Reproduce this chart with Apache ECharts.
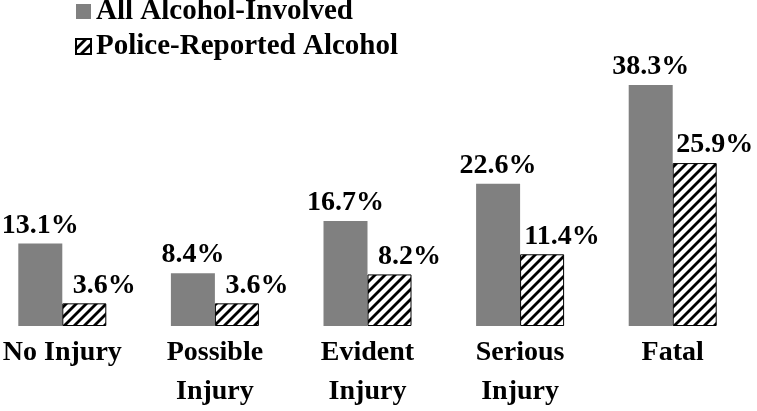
<!DOCTYPE html>
<html>
<head>
<meta charset="utf-8">
<script src="https://cdn.jsdelivr.net/npm/echarts@6/dist/echarts.min.js"></script>
<style>
    html, body {margin: 0; padding: 0; background: #fff;}
    #chart01 {width: 757px; height: 411px;}
</style>
</head>
<body>
<div id="chart01"></div>
<script>
var categories = ['No Injury', 'Possible\nInjury', 'Evident\nInjury', 'Serious\nInjury', 'Fatal'];
var allAlcohol = [13.1, 8.4, 16.7, 22.6, 38.3];
var policeAlcohol = [3.6, 3.6, 8.2, 11.4, 25.9];
var seriesNames = ['All Alcohol-Involved', 'Police-Reported Alcohol'];

var chart01 = echarts.init(document.getElementById('chart01'), null, {renderer: 'canvas'});

// diagonal stripe fill for the police-reported bars
function makeHatch() {
    var c = document.createElement('canvas');
    c.width = 10;
    c.height = 10;
    var ctx = c.getContext('2d');
    ctx.fillStyle = '#fff';
    ctx.fillRect(0, 0, 10, 10);
    ctx.strokeStyle = '#000';
    ctx.lineWidth = 2.8;
    for (var k = -1; k <= 2; k++) {
        ctx.beginPath();
        ctx.moveTo(k * 10 - 11, 11);
        ctx.lineTo(k * 10 + 1, -1);
        ctx.stroke();
    }
    return c;
}

var font = 'Liberation Serif';
var labelStyle = {
    show: true,
    position: 'top',
    distance: 4,
    fontFamily: font,
    fontWeight: 'bold',
    fontSize: 28,
    color: '#000',
    formatter: function (p) {
        return p.value.toFixed(1) + '%';
    }
};

var option = {
    animation: false,
    legend: {
        orient: 'vertical',
        left: 75,
        top: -3,
        padding: 0,
        icon: 'rect',
        itemWidth: 15,
        itemHeight: 15,
        itemGap: 6,
        textStyle: {
            fontFamily: font,
            fontWeight: 'bold',
            fontSize: 29,
            color: '#000'
        },
        data: seriesNames
    },
    grid: {
        left: -14,
        right: 8,
        top: 11.5,
        bottom: 85,
        outerBoundsMode: 'none'
    },
    xAxis: {
        type: 'category',
        data: categories,
        axisLine: {show: false},
        axisTick: {show: false},
        axisLabel: {
            interval: 0,
            margin: 7,
            fontFamily: font,
            fontWeight: 'bold',
            fontSize: 28,
            lineHeight: 39,
            color: '#000'
        }
    },
    yAxis: {
        type: 'value',
        min: 0,
        max: 50,
        show: false,
        splitLine: {show: false}
    },
    series: [
        {
            name: seriesNames[0],
            type: 'bar',
            data: allAlcohol,
            barWidth: 44,
            barGap: '0%',
            itemStyle: {color: '#808080'},
            label: labelStyle
        },
        {
            name: seriesNames[1],
            type: 'bar',
            data: policeAlcohol,
            barWidth: 44,
            itemStyle: {
                color: {image: makeHatch(), repeat: 'repeat'},
                borderColor: '#000',
                borderWidth: 1
            },
            label: Object.assign({}, labelStyle, {offset: [20, 0]})
        }
    ]
};

chart01.setOption(option);
</script>
</body>
</html>
